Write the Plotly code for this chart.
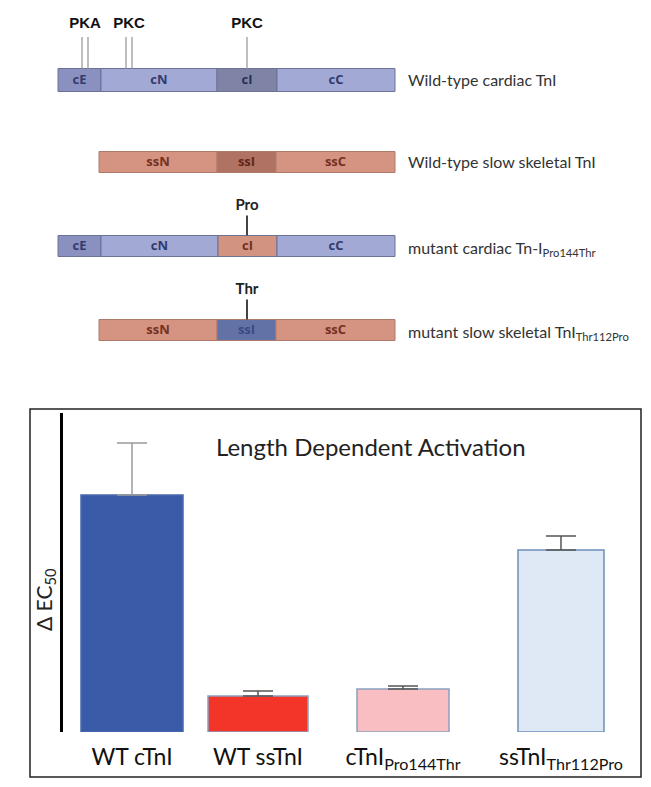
import plotly.graph_objects as go

# ---------------- data ----------------
# schematic of TnI constructs (domain boundaries, arbitrary residue-like units)
construct_names = [
    "Wild-type cardiac TnI",
    "Wild-type slow skeletal TnI",
    "mutant cardiac Tn-I<sub>Pro144Thr</sub>",
    "mutant slow skeletal TnI<sub>Thr112Pro</sub>",
]
segment_names = [
    ["cE", "cN", "cI", "cC"],
    ["ssN", "ssI", "ssC"],
    ["cE", "cN", "cI", "cC"],
    ["ssN", "ssI", "ssC"],
]
segment_bounds = [
    [0, 43, 159, 219, 337],
    [41, 159, 218, 337],
    [0, 43, 160, 219, 337],
    [41, 159, 218, 337],
]
pka_sites = [24, 30]
pkc_sites = [68, 74]
pkc_ci_sites = [189]
mutation_site = 189
mutation_labels = ["Pro", "Thr"]

# bar chart
groups = ["WT cTnI", "WT ssTnI", "cTnI<sub>Pro144Thr</sub>", "ssTnI<sub>Thr112Pro</sub>"]
delta_ec50 = [2.37, 0.36, 0.43, 1.82]
delta_ec50_err = [0.52, 0.05, 0.03, 0.14]

# ---------------- styles / layout ----------------
OFF = 8            # default page margin of the html body
W, H = 651 - OFF, 787 - OFF


def pxx(x):
    return (x - OFF) / W


def pxy(y):
    return 1 - (y - OFF) / H


row_y = [80, 162, 246, 330]
row_h = [23, 21, 21, 21]
seg_fill = [
    ["#8a90c0", "#a2a9d5", "#7f84a6", "#a2a9d5"],
    ["#d59481", "#b07262", "#d59481"],
    ["#8a90c0", "#a2a9d5", "#d29381", "#a2a9d5"],
    ["#d59481", "#6272a6", "#d59481"],
]
seg_text = [
    ["#333b6e", "#333b6e", "#2a2f52", "#333b6e"],
    ["#743022", "#63261c", "#743022"],
    ["#333b6e", "#333b6e", "#743022", "#333b6e"],
    ["#743022", "#3a4a85", "#743022"],
]
seg_line = ["#6c7198", "#b07a6a", "#6c7198", "#b07a6a"]

bar_pos = [0, 1.26, 2.71, 4.29]
bar_width = [1.02, 1.0, 0.92, 0.86]
bar_fill = ["#3a5ca8", "#f23528", "#f9bec2", "#dfe9f5"]
bar_line = ["#4a68ad", "#8aa0c0", "#8aa0c0", "#6f8fb8"]
err_color = ["#9a9a9a", "#555555", "#555555", "#555555"]

fig = go.Figure()

# ---- schematic ----
for r, (names, bounds) in enumerate(zip(segment_names, segment_bounds)):
    for k, name in enumerate(names):
        fig.add_trace(go.Bar(
            orientation="h",
            y=[row_y[r]], x=[bounds[k + 1] - bounds[k]], base=[bounds[k]],
            width=row_h[r],
            marker=dict(color=seg_fill[r][k], line=dict(color=seg_line[r], width=1)),
            xaxis="x2", yaxis="y2", hoverinfo="skip",
        ))
    fig.add_trace(go.Scatter(
        x=[(bounds[k] + bounds[k + 1]) / 2 for k in range(len(names))],
        y=[row_y[r] + 1] * len(names), mode="text",
        text=[f"<b>{n}</b>" for n in names],
        textfont=dict(family="Open Sans", size=13, color=seg_text[r]),
        xaxis="x2", yaxis="y2", hoverinfo="skip",
    ))
    fig.add_trace(go.Scatter(
        x=[bounds[-1] + 13], y=[row_y[r] + (4 if r >= 2 else 2)], mode="text",
        text=[construct_names[r]], textposition="middle right",
        textfont=dict(family="Lato", size=16, color="#333333"),
        xaxis="x2", yaxis="y2", hoverinfo="skip",
    ))

# phosphorylation sites
site_top, site_bot = 37, row_y[0] - row_h[0] / 2
lx, ly = [], []
for s in pka_sites + pkc_sites + pkc_ci_sites:
    lx += [s, s, None]
    ly += [site_top, site_bot, None]
fig.add_trace(go.Scatter(x=lx, y=ly, mode="lines", line=dict(color="#a8a8a8", width=1.5),
                         xaxis="x2", yaxis="y2", hoverinfo="skip"))
site_lbl_x = [sum(pka_sites) / 2, sum(pkc_sites) / 2, pkc_ci_sites[0]]
fig.add_trace(go.Scatter(
    x=site_lbl_x, y=[24, 24, 24], mode="text", text=["<b>PKA</b>", "<b>PKC</b>", "<b>PKC</b>"],
    textfont=dict(family="Liberation Sans", size=15, color="#111111"),
    xaxis="x2", yaxis="y2", hoverinfo="skip",
))

# mutation markers
mx, my = [], []
for r in (2, 3):
    top = row_y[r] - row_h[r] / 2
    mx += [mutation_site, mutation_site, None]
    my += [top - 20, top, None]
fig.add_trace(go.Scatter(x=mx, y=my, mode="lines", line=dict(color="#444444", width=2),
                         xaxis="x2", yaxis="y2", hoverinfo="skip"))
fig.add_trace(go.Scatter(
    x=[mutation_site, mutation_site],
    y=[row_y[2] - row_h[2] / 2 - 29, row_y[3] - row_h[3] / 2 - 29],
    mode="text", text=[f"<b>{t}</b>" for t in mutation_labels],
    textfont=dict(family="Lato", size=15, color="#222222"),
    xaxis="x2", yaxis="y2", hoverinfo="skip",
))

# ---- bar chart ----
for i in range(len(groups)):
    fig.add_trace(go.Bar(
        x=[bar_pos[i]], y=[delta_ec50[i]], width=bar_width[i],
        marker=dict(color=bar_fill[i], line=dict(color=bar_line[i], width=1.5)),
        error_y=dict(type="data", array=[delta_ec50_err[i]], symmetric=False, arrayminus=[0],
                     color=err_color[i], thickness=1.5, width=15),
        hoverinfo="skip",
    ))

x_lo = (OFF - 132) / 100
x_hi = (651 - 132) / 100

fig.update_layout(
    width=W, height=H, margin=dict(l=0, r=0, t=0, b=0),
    paper_bgcolor="white", plot_bgcolor="white",
    showlegend=False, barmode="overlay",
    xaxis=dict(domain=[0, 1], range=[x_lo, x_hi], tickvals=bar_pos, ticktext=groups,
               showline=False, showgrid=False, zeroline=False, ticks="",
               ticklabelstandoff=9,
               tickfont=dict(family="Lato", size=23, color="#111111")),
    yaxis=dict(domain=[pxy(732), pxy(413)], range=[0, 3.19], anchor="free", position=pxx(61),
               showline=True, linecolor="black", linewidth=2.5, showgrid=False,
               zeroline=False, showticklabels=False, ticks=""),
    xaxis2=dict(domain=[0, 1], range=[OFF - 58, 651 - 58], anchor="y2", visible=False),
    yaxis2=dict(domain=[pxy(360), 1], range=[360, OFF], anchor="x2", visible=False),
    shapes=[dict(type="rect", xref="paper", yref="paper",
                 x0=pxx(30), x1=pxx(641), y0=pxy(777), y1=pxy(409),
                 line=dict(color="#222222", width=1.5))],
    annotations=[
        dict(text="Length Dependent Activation", xref="paper", yref="paper",
             x=pxx(371), y=pxy(446), xanchor="center", yanchor="middle", showarrow=False,
             font=dict(family="Lato", size=24, color="#222222")),
        dict(text="Δ EC<sub>50</sub>", xref="paper", yref="paper",
             x=pxx(45), y=pxy(600), xanchor="center", yanchor="middle",
             showarrow=False, textangle=-90,
             font=dict(family="Lato", size=21, color="#222222")),
    ],
)

fig.write_html("out.html")
